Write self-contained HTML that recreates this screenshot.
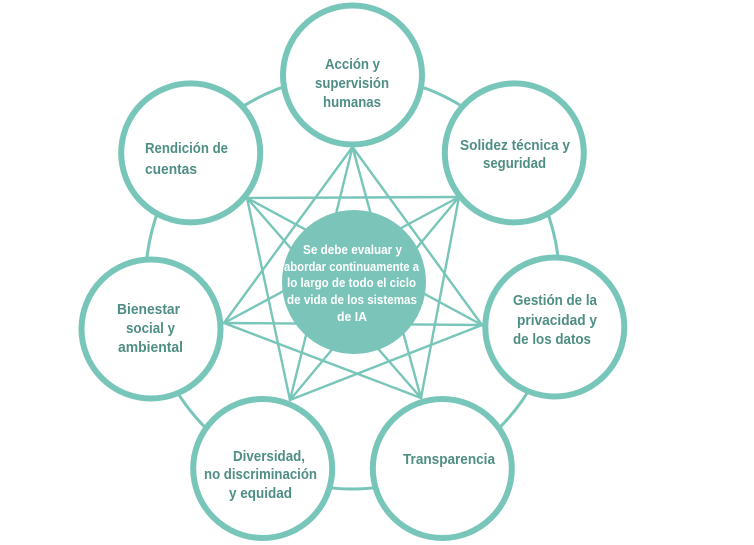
<!DOCTYPE html>
<html>
<head>
<meta charset="utf-8">
<style>
  html,body{margin:0;padding:0;background:#fff;}
  svg{display:block;}
  .t{font-family:"Liberation Sans",Arial,sans-serif;font-weight:bold;font-size:14.5px;fill:#4f8e85;}
  .c{font-family:"Liberation Sans",Arial,sans-serif;font-weight:bold;font-size:13px;fill:#ffffff;}
</style>
</head>
<body>
<svg width="754" height="545" viewBox="0 0 754 545" xmlns="http://www.w3.org/2000/svg">
  <!-- big connecting ring -->
  <circle cx="352.5" cy="282" r="207" fill="none" stroke="#78c5b9" stroke-width="3"/>

  <!-- star lines -->
  <g stroke="#78c5b9" stroke-width="2.4" fill="none" stroke-linecap="round">
    <line x1="352.5" y1="147" x2="482" y2="325"/>
    <line x1="352.5" y1="147" x2="421" y2="398"/>
    <line x1="352.5" y1="147" x2="290" y2="400"/>
    <line x1="352.5" y1="147" x2="224" y2="323"/>
    <line x1="459" y1="197" x2="421" y2="398"/>
    <line x1="459" y1="197" x2="290" y2="400"/>
    <line x1="459" y1="197" x2="224" y2="323"/>
    <line x1="459" y1="197" x2="247" y2="198"/>
    <line x1="482" y1="325" x2="290" y2="400"/>
    <line x1="482" y1="325" x2="224" y2="323"/>
    <line x1="482" y1="325" x2="247" y2="198"/>
    <line x1="421" y1="398" x2="224" y2="323"/>
    <line x1="421" y1="398" x2="247" y2="198"/>
    <line x1="290" y1="400" x2="247" y2="198"/>
  </g>

  <!-- node circles -->
  <g fill="#ffffff" stroke="#78c5b9" stroke-width="6">
    <circle cx="352.5" cy="75" r="69.5"/>
    <circle cx="514.3" cy="152.9" r="69.5"/>
    <circle cx="554.8" cy="327" r="69.5"/>
    <circle cx="442.3" cy="468.5" r="69.5"/>
    <circle cx="262.7" cy="468.5" r="69.5"/>
    <circle cx="151" cy="329" r="69.5"/>
    <circle cx="190.7" cy="152.9" r="69.5"/>
  </g>

  <!-- center filled circle -->
  <circle cx="354" cy="282" r="72" fill="#7ac4b9"/>

  <!-- node texts -->
  <text class="t" x="325" y="69" textLength="55" lengthAdjust="spacingAndGlyphs">Acción y</text>
  <text class="t" x="315" y="88" textLength="74" lengthAdjust="spacingAndGlyphs">supervisión</text>
  <text class="t" x="323" y="107" textLength="58" lengthAdjust="spacingAndGlyphs">humanas</text>

  <text class="t" x="460" y="150" textLength="110" lengthAdjust="spacingAndGlyphs">Solidez técnica y</text>
  <text class="t" x="483" y="168" textLength="63" lengthAdjust="spacingAndGlyphs">seguridad</text>

  <text class="t" x="513" y="305" textLength="84" lengthAdjust="spacingAndGlyphs">Gestión de la</text>
  <text class="t" x="517" y="325" textLength="80" lengthAdjust="spacingAndGlyphs">privacidad y</text>
  <text class="t" x="513" y="344" textLength="78" lengthAdjust="spacingAndGlyphs">de los datos</text>

  <text class="t" x="403" y="464" textLength="92" lengthAdjust="spacingAndGlyphs">Transparencia</text>

  <text class="t" x="233" y="461" textLength="72" lengthAdjust="spacingAndGlyphs">Diversidad,</text>
  <text class="t" x="204" y="479" textLength="113" lengthAdjust="spacingAndGlyphs">no discriminación</text>
  <text class="t" x="229" y="498" textLength="63" lengthAdjust="spacingAndGlyphs">y equidad</text>

  <text class="t" x="117" y="314" textLength="63" lengthAdjust="spacingAndGlyphs">Bienestar</text>
  <text class="t" x="126" y="333" textLength="49" lengthAdjust="spacingAndGlyphs">social y</text>
  <text class="t" x="118" y="352" textLength="65" lengthAdjust="spacingAndGlyphs">ambiental</text>

  <text class="t" x="145" y="153" textLength="83" lengthAdjust="spacingAndGlyphs">Rendición de</text>
  <text class="t" x="145" y="174" textLength="52" lengthAdjust="spacingAndGlyphs">cuentas</text>

  <!-- center text -->
  <text class="c" x="303" y="254" textLength="99" lengthAdjust="spacingAndGlyphs">Se debe evaluar y</text>
  <text class="c" x="284" y="271" textLength="135" lengthAdjust="spacingAndGlyphs">abordar continuamente a</text>
  <text class="c" x="287" y="287" textLength="129" lengthAdjust="spacingAndGlyphs">lo largo de todo el ciclo</text>
  <text class="c" x="287" y="304" textLength="130" lengthAdjust="spacingAndGlyphs">de vida de los sistemas</text>
  <text class="c" x="337" y="321" textLength="30" lengthAdjust="spacingAndGlyphs">de IA</text>
</svg>
</body>
</html>
